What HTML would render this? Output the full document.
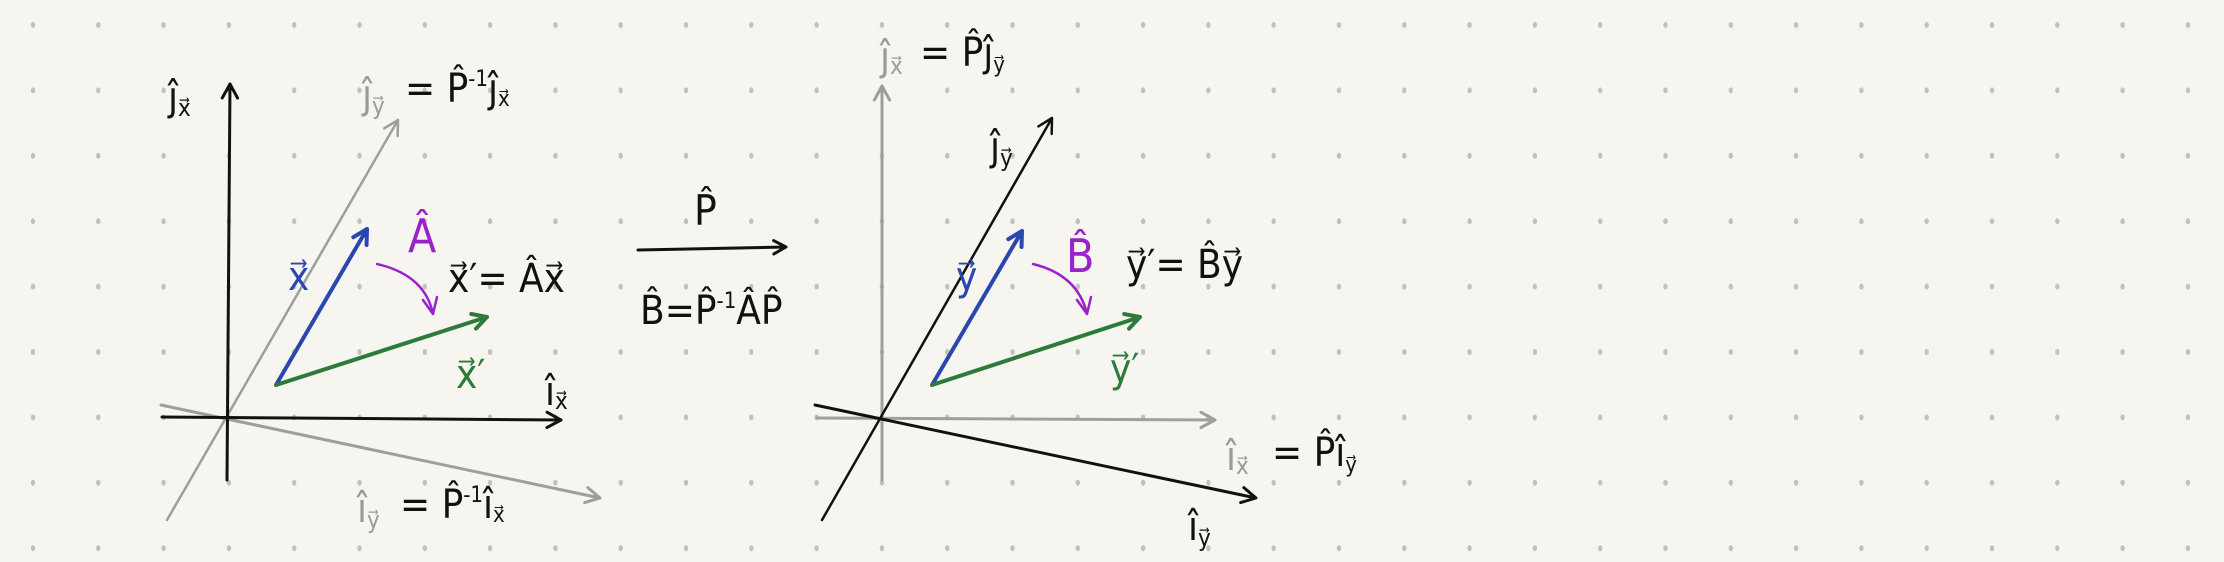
<!DOCTYPE html>
<html><head><meta charset="utf-8"><style>
html,body{margin:0;padding:0;background:#f6f5f0;}
svg{display:block;}
text{font-family:"DejaVu Sans Condensed","DejaVu Sans","Liberation Sans",sans-serif;}
</style></head><body>
<svg id="c" width="2224" height="562" viewBox="0 0 2224 562">
<rect width="2224" height="562" fill="#f6f5f0"/>
<g id="dots" fill="#c2c1bd"></g>
<g id="marks" fill="none" stroke-linecap="round" stroke-linejoin="round"></g>
<g font-size="40">
  <!-- left diagram -->
  <text x="168" y="110" fill="#111">ĵ<tspan font-size="24" dy="6">x⃗</tspan></text>
  <text x="362" y="108" fill="#9a9a9a">ĵ<tspan font-size="24" dy="6">y⃗</tspan></text>
  <text x="405" y="102" fill="#111">= P̂<tspan font-size="22" dy="-16">-1</tspan><tspan dy="16">ĵ</tspan><tspan font-size="22" dy="4">x⃗</tspan></text>
  <text x="288" y="290" fill="#2a47b0">x⃗</text>
  <text x="408" y="252" fill="#9b22c9" font-size="46">Â</text>
  <text x="448" y="292" fill="#111">x⃗′= Âx⃗</text>
  <text x="456" y="388" fill="#2e7a3a">x⃗′</text>
  <text x="545" y="405" fill="#111">î<tspan font-size="24" dy="4">x⃗</tspan></text>
  <text x="357" y="522" fill="#9a9a9a">î<tspan font-size="24" dy="6">y⃗</tspan></text>
  <text x="400" y="518" fill="#111">= P̂<tspan font-size="22" dy="-16">-1</tspan><tspan dy="16">î</tspan><tspan font-size="22" dy="4">x⃗</tspan></text>
  <!-- middle -->
  <text x="694" y="225" fill="#111" font-size="42">P̂</text>
  <text x="640" y="324" fill="#111">B̂=P̂<tspan font-size="22" dy="-16">-1</tspan><tspan dy="16">ÂP̂</tspan></text>
  <!-- right diagram -->
  <text x="880" y="70" fill="#9a9a9a">ĵ<tspan font-size="24" dy="4">x⃗</tspan></text>
  <text x="920" y="66" fill="#111">= P̂ĵ<tspan font-size="22" dy="6">y⃗</tspan></text>
  <text x="990" y="160" fill="#111">ĵ<tspan font-size="24" dy="6">y⃗</tspan></text>
  <text x="956" y="290" fill="#2a47b0">y⃗</text>
  <text x="1066" y="272" fill="#9b22c9" font-size="46">B̂</text>
  <text x="1126" y="278" fill="#111">y⃗′= B̂y⃗</text>
  <text x="1110" y="382" fill="#2e7a3a">y⃗′</text>
  <text x="1226" y="470" fill="#9a9a9a">î<tspan font-size="24" dy="4">x⃗</tspan></text>
  <text x="1272" y="466" fill="#111">= P̂î<tspan font-size="22" dy="6">y⃗</tspan></text>
  <text x="1188" y="540" fill="#111">î<tspan font-size="24" dy="6">y⃗</tspan></text>
</g>
</svg>
<script>
const NS='http://www.w3.org/2000/svg';
const dotCols=34, dotRows=9;
const dots=document.getElementById('dots');
for(let r=0;r<dotRows;r++){for(let c=0;c<dotCols;c++){
  const d=document.createElementNS(NS,'ellipse');
  d.setAttribute('cx',33+c*65.3);d.setAttribute('cy',25+r*65.4);
  d.setAttribute('rx',2.2);d.setAttribute('ry',3);
  
  
  dots.appendChild(d);
}}
const marks=document.getElementById('marks');
function arrow(x1,y1,x2,y2,col,w,name,head){
  const g=document.createElementNS(NS,'g');
  
  
  const a=Math.atan2(y2-y1,x2-x1),L=head||16;
  let d=`M${x1},${y1}L${x2},${y2}`;
  if(head!==0){
    const p1=[x2-L*Math.cos(a-0.5),y2-L*Math.sin(a-0.5)],p2=[x2-L*Math.cos(a+0.5),y2-L*Math.sin(a+0.5)];
    d+=`M${p1[0]},${p1[1]}L${x2},${y2}L${p2[0]},${p2[1]}`;
  }
  const p=document.createElementNS(NS,'path');
  p.setAttribute('d',d);p.setAttribute('stroke',col);p.setAttribute('stroke-width',w);
  g.appendChild(p);marks.appendChild(g);
}
function arc(x1,y1,cx,cy,x2,y2,name){
  const p=document.createElementNS(NS,'path');
  p.setAttribute('d',`M${x1},${y1}Q${cx},${cy} ${x2},${y2}M${x2-10},${y2-14}L${x2},${y2}L${x2+4},${y2-17}`);
  p.setAttribute('stroke','#9b22c9');p.setAttribute('stroke-width',2.5);
  
  
  marks.appendChild(p);
}
// left diagram
arrow(167,520,398,120,'#9e9e9e',2.5,'jy-gray-axis-left');
arrow(161,405,600,498,'#9e9e9e',3,'iy-gray-axis-left');
arrow(227,480,230,84,'#111',3,'jx-axis-left');
arrow(162,417,561,420,'#111',3,'ix-axis-left');
arrow(276,385,367,229,'#2a47b0',4,'x-vector');
arrow(276,385,487,317,'#2e7a3a',4,'x-prime-vector');
arc(377,264,425,275,433,314,'A-rotation-arc');
// middle
arrow(638,250,786,247,'#111',3,'P-transform-arrow',14);
// right diagram
arrow(882,480,882,86,'#9e9e9e',3,'jx-gray-axis-right');
arrow(817,418,1215,420,'#9e9e9e',3,'ix-gray-axis-right');
arrow(822,520,1052,118,'#111',2.5,'jy-axis-right');
arrow(815,405,1256,498,'#111',3,'iy-axis-right');
arrow(932,385,1022,231,'#2a47b0',4,'y-vector');
arrow(932,385,1140,317,'#2e7a3a',4,'y-prime-vector');
arc(1033,264,1078,275,1087,314,'B-rotation-arc');
</script>
</body></html>
